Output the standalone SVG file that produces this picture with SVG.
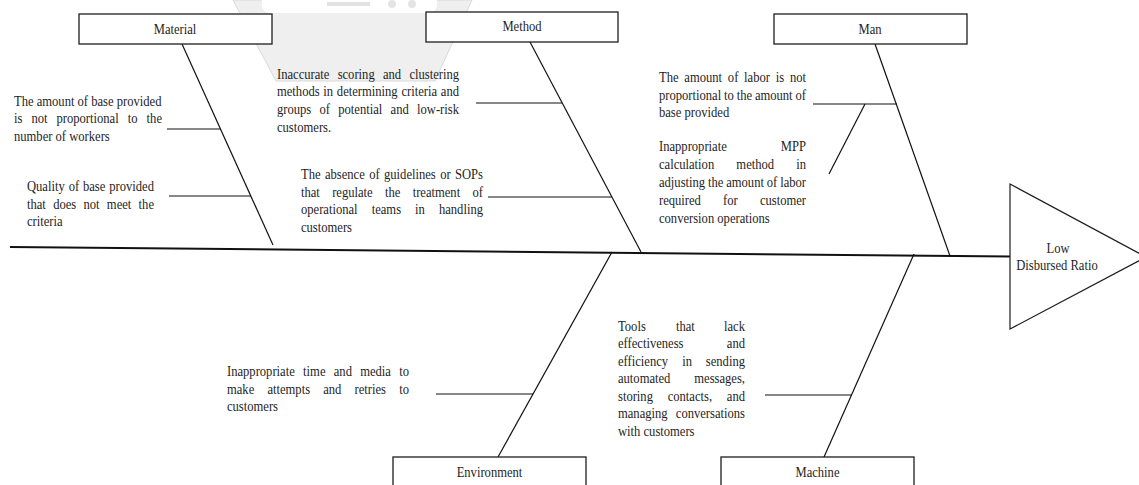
<svg xmlns="http://www.w3.org/2000/svg" width="1139" height="485" viewBox="0 0 1139 485">
<style>
.t{font-family:"Liberation Serif","Times New Roman",serif;font-size:14px;fill:#1e1e1e}
.c{text-anchor:middle}
.e{text-anchor:end}
.box{fill:#fff;stroke:#1e1e1e;stroke-width:1.3}
.ln{stroke:#111;stroke-width:1.2;fill:none}
.spine{stroke:#111;stroke-width:2;fill:none}
</style>
<rect width="1139" height="485" fill="#fff"/>
<g id="watermark">
<polygon points="233,0 472,0 435,81 276,81" fill="#efefef" stroke="#d9d9d9" stroke-width="1"/>
<rect x="262" y="-10" width="175" height="23" rx="8" fill="#fff"/>
<rect x="327" y="2" width="43" height="4" fill="#e2e2e2"/>
<circle cx="392" cy="4" r="4" fill="#e4e4e4"/>
<circle cx="412" cy="4" r="4" fill="#e4e4e4"/>
</g>
<g id="connectors">
<path class="spine" d="M10 247 L1010 256.5"/>
<path class="ln" d="M182 44 L273 245"/>
<path class="ln" d="M167 129 H221"/>
<path class="ln" d="M169 196 H251"/>
<path class="ln" d="M530 42 L641 252"/>
<path class="ln" d="M476 103 H562"/>
<path class="ln" d="M488 197 H612"/>
<path class="ln" d="M875 44 L950 256"/>
<path class="ln" d="M813 104 H897"/>
<path class="ln" d="M865 104 L829 174"/>
<path class="ln" d="M498 457 L612 252"/>
<path class="ln" d="M436 394 H533"/>
<path class="ln" d="M824 457 L914 254"/>
<path class="ln" d="M765 395 H852"/>
</g>
<g id="node-material">
<rect class="box" x="79" y="14" width="193" height="30"/>
<text class="t c" transform="scale(0.9 1)" x="194.5" y="34">Material</text>
</g>
<g id="node-method">
<rect class="box" x="426" y="12" width="192" height="30"/>
<text class="t c" transform="scale(0.9 1)" x="580" y="31">Method</text>
</g>
<g id="node-man">
<rect class="box" x="774" y="14" width="193" height="30"/>
<text class="t c" transform="scale(0.9 1)" x="966.67" y="34">Man</text>
</g>
<g id="node-environment">
<rect class="box" x="393" y="457" width="193" height="32"/>
<text class="t c" transform="scale(0.9 1)" x="543.89" y="477">Environment</text>
</g>
<g id="node-machine">
<rect class="box" x="721" y="457" width="193" height="32"/>
<text class="t c" transform="scale(0.9 1)" x="908.33" y="477">Machine</text>
</g>
<g id="node-effect">
<polygon points="1010,184 1146,257 1010,329" fill="#fff" stroke="#1e1e1e" stroke-width="1.2"/>
<text class="t c" transform="scale(0.9 1)" x="1175.56" y="253">Low</text>
<text class="t c" transform="scale(0.9 1)" x="1174.44" y="270">Disbursed Ratio</text>
</g>
<g id="cause-material-1" transform="scale(0.9 1)">
<text class="t" x="15.56" y="106">The amount of base provided</text>
<text class="t" y="123.5"><tspan x="15.56">is</tspan><tspan x="34.89">not</tspan><tspan x="62.78">proportional</tspan><tspan x="142">to</tspan><tspan class="e" x="180">the</tspan></text>
<text class="t" x="15.56" y="141">number of workers</text>
</g>
<g id="cause-material-2" transform="scale(0.9 1)">
<text class="t" y="191"><tspan x="30">Quality</tspan><tspan x="76.26">of</tspan><tspan x="92.18">base</tspan><tspan class="e" x="171.11">provided</tspan></text>
<text class="t" y="209"><tspan x="30">that</tspan><tspan x="59.06">does</tspan><tspan x="92.78">not</tspan><tspan x="118.72">meet</tspan><tspan class="e" x="171.11">the</tspan></text>
<text class="t" x="30" y="226.5">criteria</text>
</g>
<g id="cause-method-1" transform="scale(0.9 1)">
<text class="t" y="79"><tspan x="307.78">Inaccurate</tspan><tspan x="375.17">scoring</tspan><tspan x="425.47">and</tspan><tspan class="e" x="510">clustering</tspan></text>
<text class="t" y="96.5"><tspan x="307.78">methods</tspan><tspan x="359.31">in</tspan><tspan x="374.29">determining</tspan><tspan x="446.04">criteria</tspan><tspan class="e" x="510">and</tspan></text>
<text class="t" y="114"><tspan x="307.78">groups</tspan><tspan x="355.03">of</tspan><tspan x="375.84">potential</tspan><tspan x="433.99">and</tspan><tspan class="e" x="510">low-risk</tspan></text>
<text class="t" x="307.78" y="132">customers.</text>
</g>
<g id="cause-method-2" transform="scale(0.9 1)">
<text class="t" y="179"><tspan x="334.44">The</tspan><tspan x="361.04">absence</tspan><tspan x="410.19">of</tspan><tspan x="426.69">guidelines</tspan><tspan x="489.08">or</tspan><tspan class="e" x="536.67">SOPs</tspan></text>
<text class="t" y="197"><tspan x="334.44">that</tspan><tspan x="369.07">regulate</tspan><tspan x="427.78">the</tspan><tspan x="458.51">treatment</tspan><tspan class="e" x="536.67">of</tspan></text>
<text class="t" y="214"><tspan x="334.44">operational</tspan><tspan x="412.99">teams</tspan><tspan x="461.21">in</tspan><tspan class="e" x="536.67">handling</tspan></text>
<text class="t" x="334.44" y="232">customers</text>
</g>
<g id="cause-man-1" transform="scale(0.9 1)">
<text class="t" y="82"><tspan x="732.22">The</tspan><tspan x="760.37">amount</tspan><tspan x="808.74">of</tspan><tspan x="826.79">labor</tspan><tspan x="861.93">is</tspan><tspan class="e" x="895.56">not</tspan></text>
<text class="t" y="100"><tspan x="732.22">proportional</tspan><tspan x="804.54">to</tspan><tspan x="818.54">the</tspan><tspan x="838.77">amount</tspan><tspan class="e" x="895.56">of</tspan></text>
<text class="t" x="732.22" y="117">base provided</text>
</g>
<g id="cause-man-2" transform="scale(0.9 1)">
<text class="t" y="151.5"><tspan x="732.22">Inappropriate</tspan><tspan class="e" x="895.56">MPP</tspan></text>
<text class="t" y="169.5"><tspan x="732.22">calculation</tspan><tspan x="818.17">method</tspan><tspan class="e" x="895.56">in</tspan></text>
<text class="t" y="187"><tspan x="732.22">adjusting</tspan><tspan x="786.67">the</tspan><tspan x="806.89">amount</tspan><tspan x="852">of</tspan><tspan class="e" x="895.56">labor</tspan></text>
<text class="t" y="205"><tspan x="732.22">required</tspan><tspan x="803.39">for</tspan><tspan class="e" x="895.56">customer</tspan></text>
<text class="t" x="732.22" y="223">conversion operations</text>
</g>
<g id="cause-environment-1" transform="scale(0.9 1)">
<text class="t" y="376.5"><tspan x="252.22">Inappropriate</tspan><tspan x="336.8">time</tspan><tspan x="370.84">and</tspan><tspan x="400.21">media</tspan><tspan class="e" x="454.44">to</tspan></text>
<text class="t" y="394"><tspan x="252.22">make</tspan><tspan x="297.13">attempts</tspan><tspan x="359.17">and</tspan><tspan x="393.97">retries</tspan><tspan class="e" x="454.44">to</tspan></text>
<text class="t" x="252.22" y="411">customers</text>
</g>
<g id="cause-machine-1" transform="scale(0.9 1)">
<text class="t" y="331"><tspan x="686.67">Tools</tspan><tspan x="751">that</tspan><tspan class="e" x="827.78">lack</tspan></text>
<text class="t" y="348.5"><tspan x="686.67">effectiveness</tspan><tspan class="e" x="827.78">and</tspan></text>
<text class="t" y="366"><tspan x="686.67">efficiency</tspan><tspan x="757.99">in</tspan><tspan class="e" x="827.78">sending</tspan></text>
<text class="t" y="383.5"><tspan x="686.67">automated</tspan><tspan class="e" x="827.78">messages,</tspan></text>
<text class="t" y="401"><tspan x="686.67">storing</tspan><tspan x="741.88">contacts,</tspan><tspan class="e" x="827.78">and</tspan></text>
<text class="t" y="418.5"><tspan x="686.67">managing</tspan><tspan class="e" x="827.78">conversations</tspan></text>
<text class="t" x="686.67" y="436">with customers</text>
</g>
</svg>
